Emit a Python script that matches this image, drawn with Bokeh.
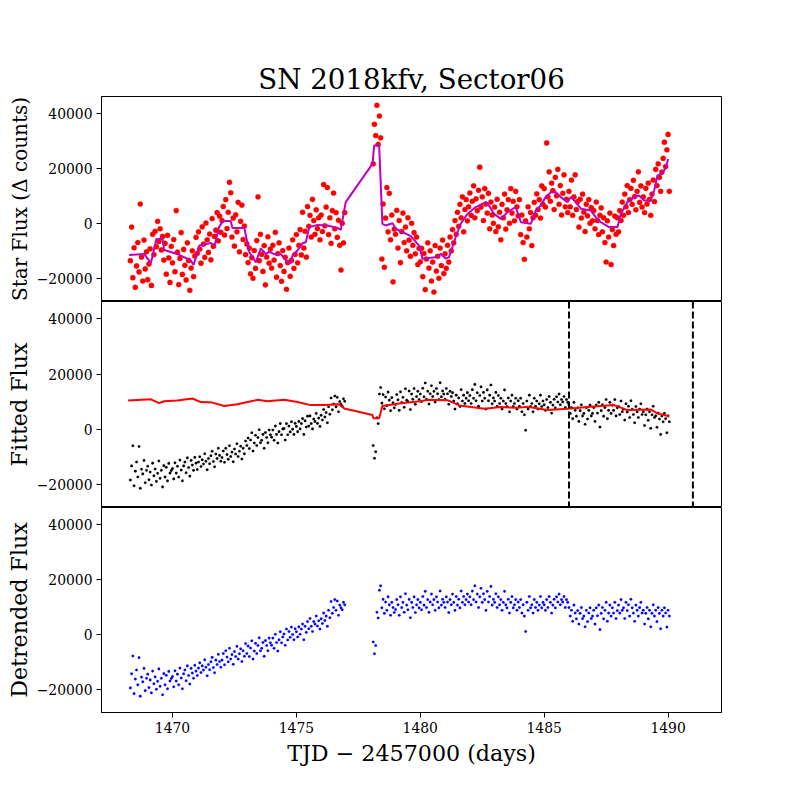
import numpy as np
from bokeh.plotting import figure
from bokeh.layouts import column
from bokeh.models import Range1d, FixedTicker, CustomJSTickFormatter, Span
from bokeh.embed import file_html
from bokeh.resources import INLINE

title_text = "SN 2018kfv, Sector06"
x_label = "TJD \u2212 2457000 (days)"
y_labels = ["Star Flux (\u0394 counts)", "Fitted Flux", "Detrended Flux"]
x_ticks = [1470, 1475, 1480, 1485, 1490]
y_ticks = [-20000, 0, 20000, 40000]
window_edges = [1486, 1491]

# observation times (TJD - 2457000)
time = [
    1468.30, 1468.35, 1468.40, 1468.45, 1468.50, 1468.55, 1468.60, 1468.65, 1468.70, 1468.75, 1468.80, 1468.85, 1468.90, 1468.95,
    1469.00, 1469.05, 1469.10, 1469.15, 1469.20, 1469.25, 1469.30, 1469.35, 1469.40, 1469.45, 1469.50, 1469.55, 1469.60, 1469.65, 1469.70, 1469.75, 1469.80, 1469.85, 1469.90, 1469.95,
    1470.00, 1470.05, 1470.10, 1470.15, 1470.20, 1470.25, 1470.30, 1470.35, 1470.40, 1470.45, 1470.50, 1470.55, 1470.60, 1470.65, 1470.70, 1470.75, 1470.80, 1470.85, 1470.90, 1470.95,
    1471.00, 1471.05, 1471.10, 1471.15, 1471.20, 1471.25, 1471.30, 1471.35, 1471.40, 1471.45, 1471.50, 1471.55, 1471.60, 1471.65, 1471.70, 1471.75, 1471.80, 1471.85, 1471.90, 1471.95,
    1472.00, 1472.05, 1472.10, 1472.15, 1472.20, 1472.25, 1472.30, 1472.35, 1472.40, 1472.45, 1472.50, 1472.55, 1472.60, 1472.65, 1472.70, 1472.75, 1472.80, 1472.85, 1472.90, 1472.95,
    1473.00, 1473.05, 1473.10, 1473.15, 1473.20, 1473.25, 1473.30, 1473.35, 1473.40, 1473.45, 1473.50, 1473.55, 1473.60, 1473.65, 1473.70, 1473.75, 1473.80, 1473.85, 1473.90, 1473.95,
    1474.00, 1474.05, 1474.10, 1474.15, 1474.20, 1474.25, 1474.30, 1474.35, 1474.40, 1474.45, 1474.50, 1474.55, 1474.60, 1474.65, 1474.70, 1474.75, 1474.80, 1474.85, 1474.90, 1474.95,
    1475.00, 1475.05, 1475.10, 1475.15, 1475.20, 1475.25, 1475.30, 1475.35, 1475.40, 1475.45, 1475.50, 1475.55, 1475.60, 1475.65, 1475.70, 1475.75, 1475.80, 1475.85, 1475.90, 1475.95,
    1476.00, 1476.05, 1476.10, 1476.15, 1476.20, 1476.25, 1476.30, 1476.35, 1476.40, 1476.45, 1476.50, 1476.55, 1476.60, 1476.65, 1476.70, 1476.75, 1476.80, 1476.85, 1476.90, 1476.95,
    1478.10, 1478.15, 1478.20, 1478.25, 1478.30, 1478.35, 1478.40, 1478.45, 1478.50, 1478.55, 1478.60, 1478.65, 1478.70, 1478.75, 1478.80, 1478.85, 1478.90, 1478.95,
    1479.00, 1479.05, 1479.10, 1479.15, 1479.20, 1479.25, 1479.30, 1479.35, 1479.40, 1479.45, 1479.50, 1479.55, 1479.60, 1479.65, 1479.70, 1479.75, 1479.80, 1479.85, 1479.90, 1479.95,
    1480.00, 1480.05, 1480.10, 1480.15, 1480.20, 1480.25, 1480.30, 1480.35, 1480.40, 1480.45, 1480.50, 1480.55, 1480.60, 1480.65, 1480.70, 1480.75, 1480.80, 1480.85, 1480.90, 1480.95,
    1481.00, 1481.05, 1481.10, 1481.15, 1481.20, 1481.25, 1481.30, 1481.35, 1481.40, 1481.45, 1481.50, 1481.55, 1481.60, 1481.65, 1481.70, 1481.75, 1481.80, 1481.85, 1481.90, 1481.95,
    1482.00, 1482.05, 1482.10, 1482.15, 1482.20, 1482.25, 1482.30, 1482.35, 1482.40, 1482.45, 1482.50, 1482.55, 1482.60, 1482.65, 1482.70, 1482.75, 1482.80, 1482.85, 1482.90, 1482.95,
    1483.00, 1483.05, 1483.10, 1483.15, 1483.20, 1483.25, 1483.30, 1483.35, 1483.40, 1483.45, 1483.50, 1483.55, 1483.60, 1483.65, 1483.70, 1483.75, 1483.80, 1483.85, 1483.90, 1483.95,
    1484.00, 1484.05, 1484.10, 1484.15, 1484.20, 1484.25, 1484.30, 1484.35, 1484.40, 1484.45, 1484.50, 1484.55, 1484.60, 1484.65, 1484.70, 1484.75, 1484.80, 1484.85, 1484.90, 1484.95,
    1485.00, 1485.05, 1485.10, 1485.15, 1485.20, 1485.25, 1485.30, 1485.35, 1485.40, 1485.45, 1485.50, 1485.55, 1485.60, 1485.65, 1485.70, 1485.75, 1485.80, 1485.85, 1485.90, 1485.95,
    1486.00, 1486.05, 1486.10, 1486.15, 1486.20, 1486.25, 1486.30, 1486.35, 1486.40, 1486.45, 1486.50, 1486.55, 1486.60, 1486.65, 1486.70, 1486.75, 1486.80, 1486.85, 1486.90, 1486.95,
    1487.00, 1487.05, 1487.10, 1487.15, 1487.20, 1487.25, 1487.30, 1487.35, 1487.40, 1487.45, 1487.50, 1487.55, 1487.60, 1487.65, 1487.70, 1487.75, 1487.80, 1487.85, 1487.90, 1487.95,
    1488.00, 1488.05, 1488.10, 1488.15, 1488.20, 1488.25, 1488.30, 1488.35, 1488.40, 1488.45, 1488.50, 1488.55, 1488.60, 1488.65, 1488.70, 1488.75, 1488.80, 1488.85, 1488.90, 1488.95,
    1489.00, 1489.05, 1489.10, 1489.15, 1489.20, 1489.25, 1489.30, 1489.35, 1489.40, 1489.45, 1489.50, 1489.55, 1489.60, 1489.65, 1489.70, 1489.75, 1489.80, 1489.85, 1489.90, 1489.95,
    1490.00, 1490.05,
]

# star flux, thousands of counts (top panel, red dots)
star_flux_k = [
    -13.4, -1.2, -19.6, -8.7, -23.1, -15.3, -6.8, -17.5, 7.2, -12.1, -20.8, -5.9, -16.4, -10.2,
    -20.3, -14.6, -9.1, -22.4, -3.8, -11.2, -2.7, -8.3, 0.9, -6.4, -1.8, -9.5, -4.6, -13.2, -7.1, -18.3, -4.2, -12.4, -21.3, -8.2,
    -14.2, -5.7, -17.4, 4.8, -10.3, -22.1, -12.6, -3.2, -18.4, -9.3, -15.1, -20.4, -6.9, -13.3, -24.2, -16.1, -9.8, -19.2, -11.7, -4.9,
    -10.8, -2.9, -9.2, -14.3, -1.1, -7.4, -12.2, 0.3, -5.8, -10.4, -3.7, -13.1, 1.9, -8.2, -4.6, -2.3, 4.1, -6.2, 2.8, -3.1,
    1.2, 6.3, -4.1, 8.8, -1.7, 4.2, 15.1, 11.3, -4.8, 2.1, -8.1, 3.3, -2.9, 7.8, -10.2, 0.9, 6.8, -5.7, -0.8, -11.2,
    -7.3, -14.1, -8.8, -18.2, -12.3, -19.8, -9.7, -16.2, -6.1, 9.8, -13.4, -3.8, -11.1, -17.3, -7.9, -22.2, -12.1, -4.7, -14.3, -9.2,
    -16.1, -7.8, -13.2, -3.1, -19.4, -10.8, -6.9, -15.2, -20.9, -9.7, -17.3, -12.2, -23.8, -14.1, -8.8, -19.1, -13.3, -5.8, -16.2, -11.1,
    -3.9, -14.2, -7.8, -2.1, -11.3, 4.2, -8.8, -2.7, -12.1, 6.3, -0.9, 3.1, -4.8, 8.9, 1.2, -3.8, 5.1, -1.7, 2.2, -5.8,
    3.2, -2.8, 14.3, -0.7, 6.1, 13.2, -3.9, 2.2, -7.1, 4.8, 11.2, -1.8, 4.1, -4.9, 1.3, -7.8, -16.8, 0.2, -6.9, 4.1,
    21.8, 36.2, 32.1, 43.1, 28.9, 39.2, 31.3, -12.8, 7.2, -15.8, 2.1, 13.2, -2.9, 11.1, -5.8, 3.2, -21.1, -1.9,
    -3.8, 4.9, -8.8, 1.2, -14.1, -2.8, 3.9, -6.8, -1.2, -9.8, 2.2, -5.9, -11.8, 0.2, -7.8, -3.2, -10.9, -4.8, -14.8, -8.9,
    -13.8, -8.9, -19.2, -10.8, -23.9, -12.8, -6.9, -16.1, -9.8, -20.8, -13.9, -24.8, -7.9, -17.2, -11.8, -19.8, -8.8, -15.2, -5.9, -18.1,
    -10.9, -16.2, -7.8, -13.9, -4.8, -9.8, -2.1, -6.9, 1.2, -3.8, 4.2, -0.9, 7.1, 2.2, 9.8, -2.9, 5.2, 8.8, 1.1, 6.2,
    11.2, 3.1, 8.2, 13.8, 2.2, 9.1, 4.8, 12.2, 20.6, 6.1, 9.8, 1.2, 12.8, 7.2, 3.9, 11.1, -1.8, 7.9, 3.2, 0.2,
    6.1, -2.8, 8.9, -1.1, 4.2, -5.8, 7.1, 2.2, 10.8, -1.9, 5.1, 8.8, 0.2, 12.8, 3.9, 8.2, 1.1, 11.8, 6.2, 2.9,
    8.8, -3.9, 3.2, -6.8, -12.9, 1.1, -4.8, 6.2, -1.8, 4.1, -7.9, 2.2, 7.8, 3.1, 10.9, 5.2, 8.8, 2.1, 13.8, 7.1,
    12.8, 6.1, 29.4, 9.8, 18.9, 8.2, 14.8, 12.1, 5.2, 16.9, 10.2, 19.8, 7.1, 13.9, 3.2, 11.1, 17.8, 6.2, 8.9, 4.1,
    11.8, 6.2, 15.9, 3.1, 9.8, 17.8, 5.2, 8.1, -1.2, 8.9, 2.1, 10.8, 4.2, -2.8, 7.1, 2.9, 8.8, 0.2, 5.9, 1.1,
    4.8, -1.8, 7.9, 1.2, -3.9, 3.1, 5.8, -2.9, 2.2, -6.8, -13.9, 1.1, -4.8, 3.9, -14.8, -2.1, -7.9, 2.8, -3.8, 2.2,
    -2.9, 4.8, 1.2, 7.9, 3.1, 10.8, 6.2, 13.9, 4.1, 8.8, 12.9, 7.1, 15.8, 9.9, 5.1, 11.8, 18.9, 7.8, 13.8, 6.1,
    9.8, 4.1, 12.9, 7.2, 14.8, 8.9, 3.1, 10.8, 15.9, 8.1, 19.8, 13.9, 21.8, 16.9, 11.8, 18.8, 23.8, 29.7, 20.8, 26.9,
    32.5, 11.8,
]

# fitted flux, thousands of counts (middle panel, black dots)
fitted_flux_k = [
    -18.3, -13.2, -5.9, -20.4, -15.1, -11.8, -17.2, -6.2, -21.3, -14.4, -16.1, -11.2, -19.3, -14.8,
    -13.3, -18.2, -15.4, -20.1, -12.2, -16.8, -14.3, -18.8, -15.9, -11.4, -17.7, -14.8, -20.8, -13.1, -17.2, -13.7, -18.6, -12.3, -15.8, -14.9,
    -14.2, -17.9, -12.1, -15.8, -13.3, -17.2, -11.1, -14.7, -18.6, -13.2, -11.8, -15.7, -10.3, -13.8, -16.9, -11.2, -12.9, -14.8, -10.1, -12.2,
    -14.5, -11.8, -9.9, -13.4, -11.0, -12.5, -8.8, -11.5, -14.6, -10.5, -12.4, -9.5, -7.9, -11.6, -13.5, -8.9, -10.5, -6.8, -9.4, -11.5,
    -10.2, -7.8, -11.9, -6.8, -9.1, -10.8, -5.9, -9.8, -8.2, -11.7, -7.1, -8.9, -5.2, -9.8, -7.9, -6.1, -10.7, -6.8, -8.8, -4.2,
    -5.8, -3.1, -6.9, -3.8, -1.2, -7.8, -4.9, -2.1, -5.8, -2.9, -0.1, -4.8, -3.9, -1.8, -6.8, -1.1, -2.9, -4.8, -0.2, -1.9,
    -2.8, -0.2, -3.9, 1.2, -1.8, -4.9, -0.8, 2.1, -1.9, 0.2, 0.3, -3.8, 2.1, -1.9, 1.2, -0.9, 2.8, 0.1, -1.8, 2.2,
    1.1, -0.8, 2.9, 0.2, 2.1, 3.9, -1.8, 3.1, 0.9, 4.8, 1.2, 4.9, 2.1, 0.2, 3.8, 2.9, 5.8, 2.2, 4.1, 1.1,
    5.1, 3.4, 7.2, 4.5, 6.1, 2.4, 8.2, 5.5, 11.4, 7.1, 9.2, 12.1, 8.2, 11.6, 6.4, 10.1, 9.1, 8.4, 11.1, 10.2,
    -5.8, -10.4, -8.1, 4.2, 2.1, 12.8, 15.2, 9.5, 12.6, 7.5, 11.7, 8.6, 13.5, 10.6, 6.8, 11.5, 9.6, 7.8,
    9.0, 12.6, 10.7, 6.9, 13.6, 9.7, 11.6, 8.0, 14.7, 10.6, 10.1, 13.9, 7.2, 12.8, 10.9, 14.8, 9.1, 11.9, 13.8, 10.8,
    12.8, 10.1, 14.9, 11.8, 16.8, 10.9, 13.8, 9.2, 12.9, 15.8, 11.9, 13.8, 9.9, 14.8, 12.9, 10.8, 16.9, 11.8, 13.9, 12.8,
    10.9, 14.8, 12.9, 9.1, 13.8, 11.9, 13.3, 10.3, 7.4, 12.4, 9.3, 11.4, 8.3, 14.4, 10.3, 12.4, 9.4, 11.3, 13.3, 10.4,
    12.3, 9.4, 14.4, 11.3, 16.3, 10.4, 13.3, 8.4, 12.3, 15.4, 10.3, 13.4, 11.3, 7.4, 14.3, 10.4, 12.4, 16.1, 9.3, 11.4,
    10.3, 13.4, 8.4, 12.3, 9.4, 11.3, 7.4, 10.3, 14.3, 9.4, 8.3, 11.4, 6.4, 10.3, 12.4, 8.3, 9.4, 11.3, 7.4, 10.4,
    8.4, 11.3, 6.4, 9.4, 5.3, -0.3, 10.3, 7.4, 12.4, 8.3, 9.4, 6.4, 11.3, 8.4, 10.3, 7.4, 9.3, 12.4, 8.3, 10.3,
    8.9, 6.9, 10.8, 7.9, 11.9, 9.8, 5.9, 8.8, 10.9, 7.8, 11.8, 9.9, 12.8, 8.9, 10.8, 9.9, 11.9, 7.9, 10.8, 9.8,
    8.9, 5.8, 7.9, 3.9, 9.8, 6.9, 4.8, 7.8, 2.9, 6.8, 8.9, 4.9, 5.8, 1.9, 7.9, 3.8, 6.9, 8.8, 4.9, 5.8,
    7.9, 2.9, 8.8, 5.9, 9.8, 0.9, 6.8, 8.9, 4.8, 7.9, 10.8, 3.9, 6.9, 9.8, 5.8, 8.8, 6.9, 10.8, 4.9, 7.8,
    8.3, 5.4, 10.3, 6.4, 7.3, 3.4, 9.3, 6.3, 8.4, 4.3, 10.4, 7.3, 5.4, 2.4, 8.3, 6.4, 4.3, 7.4, 9.3, 5.4,
    6.4, 1.4, 5.3, 7.4, 3.3, 6.4, 0.4, 5.3, 8.4, 4.3, 4.9, 0.8, 5.9, 3.8, -1.8, 4.9, 2.8, 5.8, 3.9, -1.2,
    4.9, 2.8,
]

# detrended flux, thousands of counts (bottom panel, blue dots)
detrended_flux_k = [
    -19.3, -14.2, -7.7, -21.4, -16.1, -12.8, -18.2, -8.3, -22.3, -15.4, -17.1, -12.2, -20.3, -15.8,
    -14.3, -19.2, -16.4, -21.1, -13.2, -17.8, -15.3, -19.8, -16.9, -12.4, -18.7, -15.8, -21.8, -14.1, -18.2, -14.7, -19.6, -13.3, -16.8, -15.9,
    -15.2, -18.9, -13.1, -16.8, -14.3, -18.2, -12.1, -15.7, -19.6, -14.2, -12.8, -16.7, -11.3, -14.8, -17.9, -12.2, -13.9, -15.8, -11.1, -13.2,
    -14.8, -12.1, -10.2, -13.7, -11.3, -12.8, -9.1, -11.8, -14.9, -10.8, -12.7, -9.8, -8.2, -11.9, -13.8, -9.2, -10.8, -7.1, -9.7, -11.8,
    -9.2, -6.8, -10.9, -5.8, -8.1, -9.8, -4.9, -8.8, -7.2, -10.7, -6.1, -7.9, -4.2, -8.8, -6.9, -5.1, -9.7, -5.8, -7.8, -3.2,
    -6.8, -4.1, -7.9, -4.8, -2.2, -8.8, -5.9, -3.1, -6.8, -3.9, -1.1, -5.8, -4.9, -2.8, -7.8, -2.1, -3.9, -5.8, -1.2, -2.9,
    -3.8, -1.2, -4.9, 0.2, -2.8, -5.9, -1.8, 1.1, -2.9, -0.8, 0.3, -3.8, 2.1, -1.9, 1.2, -0.9, 2.8, 0.1, -1.8, 2.2,
    1.1, -0.8, 2.9, 0.2, 2.1, 3.9, -1.8, 3.1, 0.9, 4.8, 2.2, 5.9, 3.1, 1.2, 4.8, 3.9, 6.8, 3.2, 5.1, 2.1,
    5.8, 4.1, 7.9, 5.2, 6.8, 3.1, 8.9, 6.2, 12.1, 7.8, 9.9, 12.8, 8.9, 12.3, 7.1, 10.8, 9.8, 9.1, 11.8, 10.9,
    -2.6, -6.9, -3.9, 8.2, 6.1, 16.2, 17.8, 9.8, 12.9, 7.8, 11.9, 8.9, 13.8, 10.9, 7.1, 11.8, 9.9, 8.1,
    9.2, 12.8, 10.9, 7.1, 13.8, 9.9, 11.8, 8.2, 14.9, 10.8, 9.1, 12.9, 6.2, 11.8, 9.9, 13.8, 8.1, 10.9, 12.8, 9.8,
    11.8, 9.1, 13.9, 10.8, 15.8, 9.9, 12.8, 8.2, 11.9, 14.8, 10.9, 12.8, 8.9, 13.8, 11.9, 9.8, 15.9, 10.8, 12.9, 11.8,
    9.9, 13.8, 11.9, 8.1, 12.8, 10.9, 14.8, 11.8, 8.9, 13.9, 10.8, 12.9, 9.8, 15.9, 11.8, 13.9, 10.9, 12.8, 14.8, 11.9,
    13.8, 10.9, 15.9, 12.8, 17.8, 11.9, 14.8, 9.9, 13.8, 16.9, 11.8, 14.9, 12.8, 8.9, 15.8, 11.9, 13.9, 17.6, 10.8, 12.9,
    11.8, 14.9, 9.9, 13.8, 10.9, 12.8, 8.9, 11.8, 15.8, 10.9, 9.8, 12.9, 7.9, 11.8, 13.9, 9.8, 10.9, 12.8, 8.9, 11.9,
    9.9, 12.8, 7.9, 10.9, 6.8, 1.2, 11.8, 8.9, 13.9, 9.8, 10.9, 7.9, 12.8, 9.9, 11.8, 8.9, 10.8, 13.9, 9.8, 11.8,
    10.9, 8.9, 12.8, 9.9, 13.9, 11.8, 7.9, 10.8, 12.9, 9.8, 13.8, 11.9, 14.8, 10.9, 12.8, 11.9, 13.9, 9.9, 12.8, 11.8,
    9.9, 6.8, 8.9, 4.9, 10.8, 7.9, 5.8, 8.8, 3.9, 7.8, 9.9, 5.9, 6.8, 2.9, 8.9, 4.8, 7.9, 9.8, 5.9, 6.8,
    8.9, 3.9, 9.8, 6.9, 10.8, 1.9, 7.8, 9.9, 5.8, 8.9, 11.8, 4.9, 7.9, 10.8, 6.8, 9.8, 7.9, 11.8, 5.9, 8.8,
    10.8, 7.9, 12.8, 8.9, 9.8, 5.9, 11.8, 8.8, 10.9, 6.8, 12.9, 9.8, 7.9, 4.9, 10.8, 8.9, 6.8, 9.9, 11.8, 7.9,
    8.9, 3.9, 7.8, 9.9, 5.8, 8.9, 2.9, 7.8, 10.9, 6.8, 8.9, 4.8, 9.9, 7.8, 2.2, 8.9, 6.8, 9.8, 7.9, 2.8,
    8.9, 6.8,
]

# smoothed star flux (top panel, magenta line)
smooth_time = [
    1468.25, 1468.86, 1469.13, 1469.35, 1469.60, 1469.66, 1470.20, 1470.74, 1470.85, 1471.08,
    1471.55, 1471.70, 1471.88, 1472.04, 1472.35, 1472.42, 1472.90, 1473.10, 1473.36, 1473.56,
    1473.77, 1473.90, 1474.24, 1474.37, 1474.64, 1474.78, 1474.84, 1475.04, 1475.25, 1475.38,
    1475.52, 1475.85, 1476.25, 1476.66, 1476.79, 1476.99, 1478.07, 1478.14, 1478.34, 1478.47,
    1478.60, 1478.88, 1479.01, 1479.28, 1479.62, 1479.95, 1480.09, 1480.69, 1480.83, 1481.03,
    1481.16, 1481.43, 1481.63, 1481.90, 1482.24, 1482.64, 1482.77, 1482.98, 1483.25, 1483.52,
    1483.85, 1484.06, 1484.46, 1484.66, 1484.86, 1485.06, 1485.27, 1485.47, 1485.67, 1485.94,
    1486.07, 1486.21, 1486.48, 1486.88, 1487.08, 1487.28, 1487.62, 1487.96, 1488.09, 1488.36,
    1488.63, 1488.83, 1489.03, 1489.30, 1489.44, 1489.57, 1489.77, 1489.91, 1490.00,
]
smooth_flux_k = [
    -11.3, -11.0, -14.3, -5.5, -5.5, -9.5, -11.0, -13.3, -15.0, -7.9,
    -7.0, -7.9, -1.2, 1.0, 1.0, -1.5, -1.5, -10.3, -14.0, -9.0,
    -11.0, -10.2, -11.5, -10.9, -14.0, -14.3, -11.5, -9.7, -7.0, -6.7,
    -1.2, -0.4, -0.6, -1.5, -2.2, 7.9, 21.8, 28.5, 28.5, 0.0,
    -0.6, 0.2, -1.8, -3.0, -4.5, -7.9, -12.7, -12.1, -10.9, -12.7,
    -12.1, -4.8, 0.0, 3.6, 6.1, 7.9, 6.7, 3.6, 1.8, 4.2,
    6.1, 0.6, 0.0, 4.8, 6.7, 9.7, 11.5, 11.5, 9.7, 7.9,
    9.7, 8.5, 5.5, 4.8, 2.4, 0.6, -1.2, -1.2, 3.6, 7.9,
    9.7, 10.3, 8.5, 8.5, 12.1, 17.6, 18.2, 20.6, 23.6,
]

# trend fit (middle panel, red line)
fit_time = [
    1468.21, 1469.13, 1469.46, 1469.66, 1470.20, 1470.80, 1471.14, 1471.61, 1472.09, 1472.62,
    1473.03, 1473.43, 1473.83, 1474.51, 1475.04, 1475.58, 1476.12, 1476.73, 1476.93, 1478.07,
    1478.11, 1478.34, 1478.47, 1479.21, 1480.02, 1480.29, 1481.10, 1481.57, 1482.60, 1483.25,
    1483.92, 1484.32, 1485.13, 1485.94, 1486.75, 1487.82, 1488.36, 1489.30, 1489.57, 1490.04,
]
fit_flux_k = [
    10.5, 10.9, 9.5, 10.2, 10.5, 11.2, 9.9, 9.7, 8.5, 9.1,
    9.9, 10.7, 10.2, 10.7, 9.9, 8.8, 8.8, 9.1, 7.6, 5.2,
    4.0, 4.0, 8.5, 9.5, 10.2, 10.7, 10.6, 8.7, 7.5, 8.1,
    7.8, 8.2, 7.0, 7.5, 8.1, 8.8, 7.0, 7.2, 5.8, 4.8,
]

FONT = "DejaVu Serif"
n = min(len(time), len(star_flux_k), len(fitted_flux_k), len(detrended_flux_k))
t = np.array(time[:n])
star = np.array(star_flux_k[:n]) * 1000
fitted = np.array(fitted_flux_k[:n]) * 1000
detr = np.array(detrended_flux_k[:n]) * 1000

x_range = Range1d(1467.135, 1492.155)
y_range = Range1d(-28250, 46290)

minus_fmt = CustomJSTickFormatter(code="return (tick < 0 ? '\\u2212' : '') + Math.abs(tick).toFixed(0);")


def make_panel(frame_h, ylabel, top=0, bottom=0, label_size="22.2px"):
    p = figure(frame_width=620, frame_height=frame_h, x_range=x_range, y_range=y_range,
               output_backend="svg", toolbar_location=None,
               min_border_left=101, min_border_right=79,
               min_border_top=top, min_border_bottom=bottom,
               background_fill_color="white", border_fill_color="white")
    p.grid.visible = False
    p.outline_line_color = "black"
    p.outline_line_width = 1
    p.outline_line_alpha = 1
    ya = p.yaxis[0]
    ya.ticker = FixedTicker(ticks=y_ticks)
    ya.formatter = minus_fmt
    ya.axis_label = ylabel
    ya.axis_label_text_font = FONT
    ya.axis_label_text_font_size = label_size
    ya.axis_label_text_font_style = "normal"
    ya.axis_label_text_color = "black"
    ya.axis_label_standoff = 2
    ya.major_label_text_font = FONT
    ya.major_label_text_font_size = "13.9px"
    ya.major_label_text_color = "black"
    ya.major_label_standoff = 4
    ya.major_tick_out = 5
    ya.major_tick_in = 0
    ya.minor_tick_out = 0
    ya.minor_tick_in = 0
    ya.axis_line_color = "black"
    ya.major_tick_line_color = "black"
    return p


# the long top label is slightly smaller so that it fits inside its own panel
p1 = make_panel(205, y_labels[0], top=96, label_size="20px")
p1.xaxis.visible = False
p1.title.text = title_text
p1.title.align = "center"
p1.title.text_font = FONT
p1.title.text_font_size = "27.7px"
p1.title.text_font_style = "normal"
p1.title.text_color = "black"
p1.title.standoff = 2
p1.scatter(t, star, size=5.2, fill_color="red", line_color="red", line_width=0.3)
p1.line(smooth_time, np.array(smooth_flux_k) * 1000, line_color="#bf00bf", line_width=2)

p2 = make_panel(206, y_labels[1])
p2.xaxis.visible = False
p2.scatter(t, fitted, size=2.6, fill_color="black", line_color="black", line_width=0.2)
p2.line(fit_time, np.array(fit_flux_k) * 1000, line_color="red", line_width=2)
for edge in window_edges:
    p2.add_layout(Span(location=edge, dimension="height", line_color="black",
                       line_width=2, line_dash="7 3"))

p3 = make_panel(205, y_labels[2], bottom=88)
p3.scatter(t, detr, size=2.6, fill_color="blue", line_color="blue", line_width=0.2)
xa = p3.xaxis[0]
xa.ticker = FixedTicker(ticks=x_ticks)
xa.axis_label = x_label
xa.axis_label_text_font = FONT
xa.axis_label_text_font_size = "22.2px"
xa.axis_label_text_font_style = "normal"
xa.axis_label_text_color = "black"
xa.axis_label_standoff = 4
xa.major_label_text_font = FONT
xa.major_label_text_font_size = "13.9px"
xa.major_label_text_color = "black"
xa.major_label_standoff = 4
xa.major_tick_out = 5
xa.major_tick_in = 0
xa.minor_tick_out = 0
xa.minor_tick_in = 0

layout = column(p1, p2, p3, spacing=0)
with open("out.html", "w", encoding="utf-8") as f:
    f.write(file_html(layout, INLINE))
